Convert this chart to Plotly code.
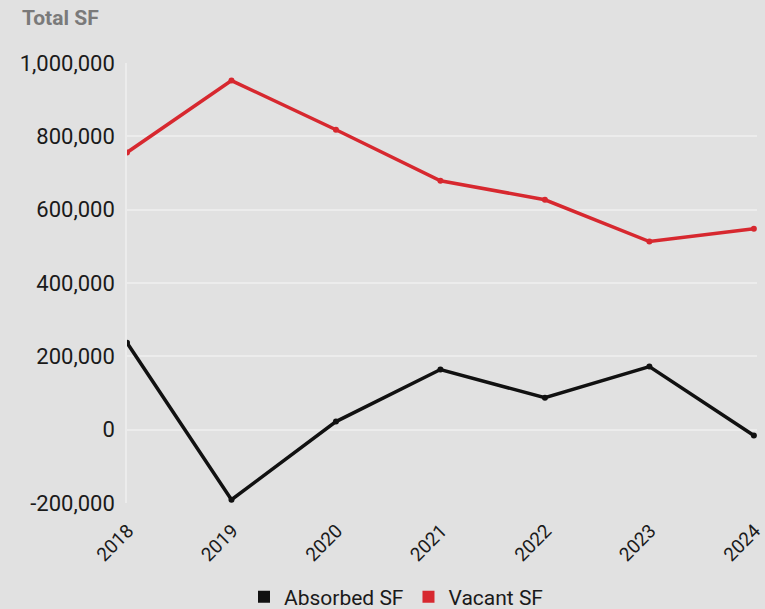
import plotly.graph_objects as go

years = ["2018", "2019", "2020", "2021", "2022", "2023", "2024"]
absorbed_sf = [237000, -191000, 22000, 164000, 87000, 172000, -16000]
vacant_sf = [756000, 952000, 818000, 679000, 627000, 513000, 548000]
y_ticks = [-200000, 0, 200000, 400000, 600000, 800000, 1000000]
y_tick_labels = ["-200,000", "0", "200,000", "400,000", "600,000", "800,000", "1,000,000"]

BLACK = "#111111"
RED = "#d7282f"
FONT = "Roboto"

fig = go.Figure()
fig.add_trace(go.Scatter(x=list(range(len(years))), y=absorbed_sf, mode="lines+markers",
                         line=dict(color=BLACK, width=3.5), marker=dict(size=6, color=BLACK),
                         showlegend=False, name="Absorbed SF"))
fig.add_trace(go.Scatter(x=list(range(len(years))), y=vacant_sf, mode="lines+markers",
                         line=dict(color=RED, width=3.5), marker=dict(size=6, color=RED),
                         showlegend=False, name="Vacant SF"))
# legend-only entries with square swatches
fig.add_trace(go.Scatter(x=[None], y=[None], mode="markers", name="Absorbed SF",
                         marker=dict(symbol="square", size=12, color=BLACK)))
fig.add_trace(go.Scatter(x=[None], y=[None], mode="markers", name="Vacant SF",
                         marker=dict(symbol="square", size=12, color=RED)))

fig.update_layout(
    width=765, height=609,
    margin=dict(l=127, r=8, t=63, b=106, autoexpand=False),
    paper_bgcolor="#e1e1e1", plot_bgcolor="#e1e1e1",
    font=dict(family=FONT, size=22, color="#1a1a1a"),
    xaxis=dict(range=[0, 6.03], tickmode="array", tickvals=list(range(len(years))),
               ticktext=years, tickangle=-45, showgrid=False, zeroline=False,
               showline=False, ticks="", automargin=False, ticklabeloverflow="allow",
               ticklabelstandoff=12, ticklabelshift=1,
               tickfont=dict(size=19, color="#1a1a1a")),
    yaxis=dict(range=[-200000, 1000000], tickmode="array", tickvals=y_ticks,
               ticktext=y_tick_labels, showgrid=True, gridcolor="#ececec", gridwidth=1.5,
               zeroline=False, showline=True, linecolor="#ececec", linewidth=1.5, ticks="",
               automargin=False, ticklabelstandoff=6),
    legend=dict(orientation="h", x=(244 - 127) / 630, xanchor="left", y=-0.214, yanchor="middle",
                font=dict(size=21, color="#1a1a1a"), itemwidth=30,
                bgcolor="rgba(0,0,0,0)"),
    annotations=[dict(text="<b>Total SF</b>", xref="paper", yref="paper", x=-0.170, y=1.0,
                      xanchor="left", yanchor="middle", yshift=45, showarrow=False,
                      font=dict(size=21, color="#7a7a7a", family=FONT))],
)

fig.write_html("out.html")
